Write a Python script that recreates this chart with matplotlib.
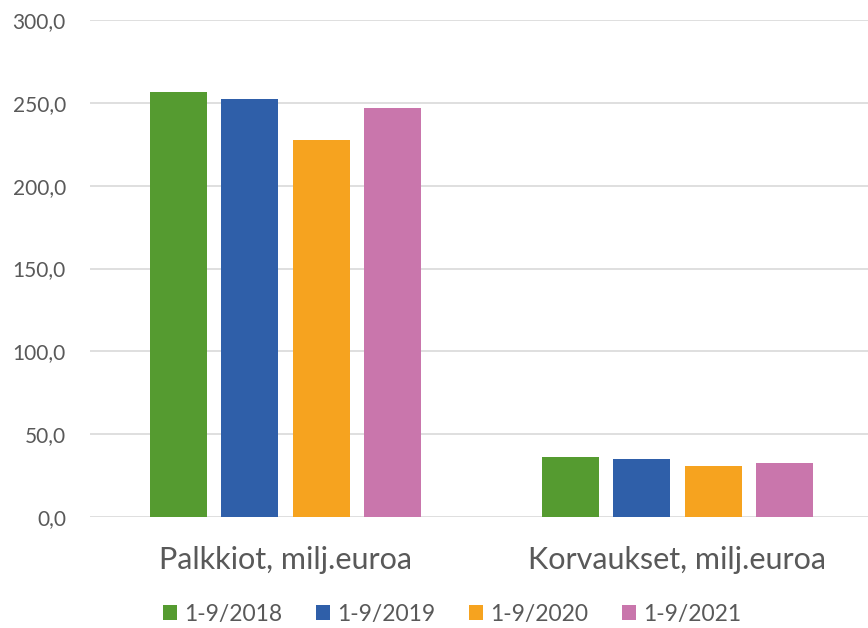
import matplotlib
matplotlib.use("Agg")
import matplotlib.pyplot as plt
import numpy as np

categories = ["Palkkiot, milj.euroa", "Korvaukset, milj.euroa"]
series = ["1-9/2018", "1-9/2019", "1-9/2020", "1-9/2021"]
values = {
    "1-9/2018": [256.3, 36.4],
    "1-9/2019": [252.3, 35.2],
    "1-9/2020": [227.5, 30.8],
    "1-9/2021": [246.8, 32.4],
}
colors = ["#559b30", "#2f5fa9", "#f6a31f", "#c976ac"]
yticks = [0, 50, 100, 150, 200, 250, 300]

plt.rcParams['font.family'] = ['Lato', 'DejaVu Sans']
txt = "#595959"

fig = plt.figure(figsize=(8.68, 6.28), dpi=100)
ax = fig.add_axes([89.5 / 868, 0.1768, 784 / 868, 0.7912])

x = np.arange(len(categories))
step = 0.182
width = 0.145
for i, s in enumerate(series):
    ax.bar(x + (i - 1.5) * step, values[s], width, color=colors[i], label=s, zorder=3)

ax.set_xlim(-0.5, 1.5)
ax.set_ylim(0, 300)
ax.set_yticks(yticks)
ax.set_yticklabels([f"{v:.1f}".replace(".", ",") for v in yticks], fontsize=15, color=txt)
ax.set_xticks(x)
ax.set_xticklabels(categories, fontsize=22, color=txt)
ax.tick_params(axis='y', length=0, pad=17)
ax.tick_params(axis='x', length=0, pad=21)
ax.grid(axis='y', color='#d9d9d9', linewidth=1.2, zorder=0)
for sp in ax.spines.values():
    sp.set_visible(False)

leg = fig.legend(loc='center', bbox_to_anchor=(0.521, 0.022), ncol=4, frameon=False,
                 fontsize=16.5, handlelength=0.6, handleheight=0.6, handletextpad=0.3,
                 columnspacing=1.5)
for t in leg.get_texts():
    t.set_color(txt)

fig.savefig("out.png", dpi=100)
